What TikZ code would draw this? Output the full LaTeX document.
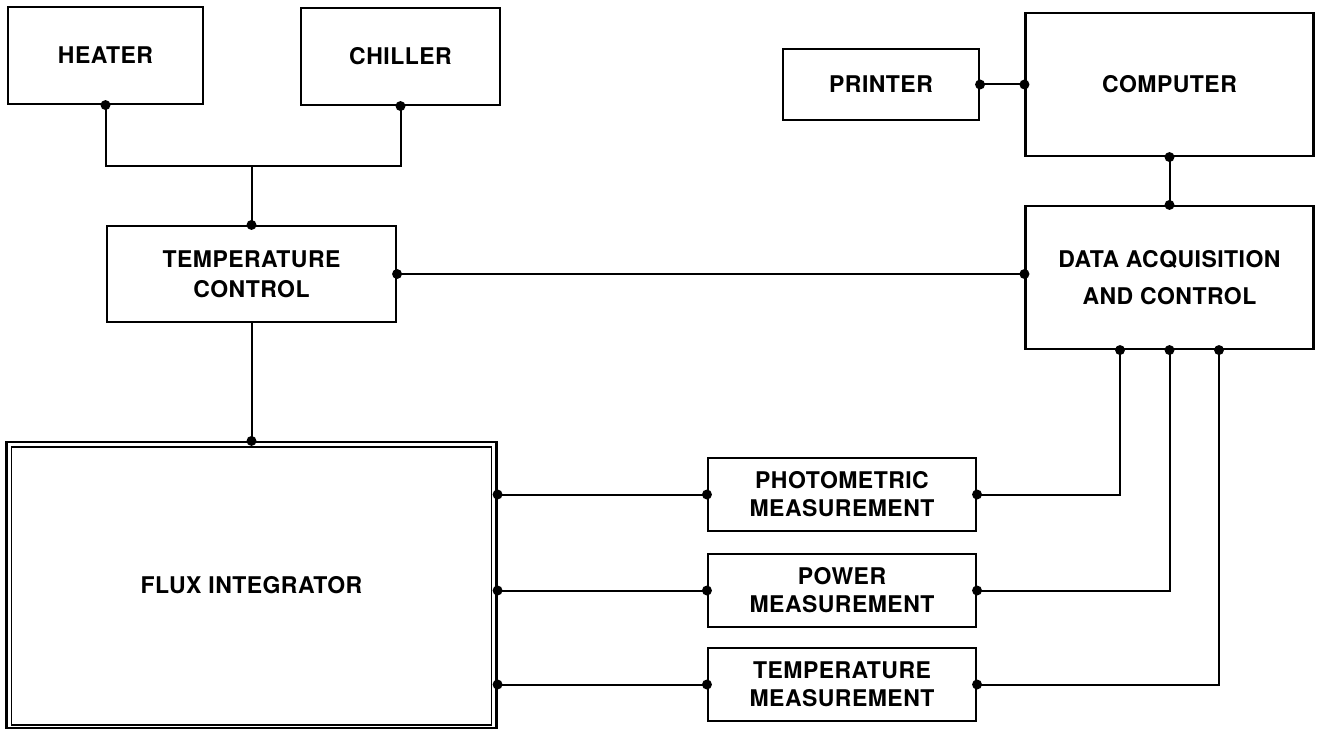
\documentclass[tikz,border=0pt]{standalone}
\usepackage{fontspec}
\setmainfont{TeX Gyre Heros}[LetterSpace=2]
\usetikzlibrary{calc}
\begin{document}
\begin{tikzpicture}[x=1pt,y=-1pt,
  box/.style={draw,line width=2.1pt,inner sep=0pt,align=center,font=\bfseries\fontsize{23}{30}\selectfont},
  measbox/.style={box,minimum width=268,minimum height=73,font=\bfseries\fontsize{23}{28}\selectfont},
  wire/.style={line width=2pt},
  jdot/.style={fill=black}]
\useasboundingbox (0,0) rectangle (1318,730);

% boxes
\node[box,minimum width=195,minimum height=97] (heater) at (105.5,55.5) {HEATER};
\node[box,minimum width=199,minimum height=97] (chiller) at (400.5,56.5) {CHILLER};
\node[box,minimum width=289,minimum height=96] (tc) at (251.5,274) {TEMPERATURE\\CONTROL};
\node[box,minimum width=490,minimum height=286] (flux) at (251.5,585) {FLUX INTEGRATOR};
\draw[line width=1.4pt] ($(flux.north west)+(6,6)$) rectangle ($(flux.south east)+(-6,-4)$);
\node[box,minimum width=196,minimum height=71] (printer) at (881,84.5) {PRINTER};
\node[box,minimum width=288,minimum height=143] (computer) at (1169.5,84.5) {COMPUTER};
\node[box,minimum width=288,minimum height=143,font=\bfseries\fontsize{23}{37}\selectfont] (daq) at (1169.5,277.5) {DATA ACQUISITION\\AND CONTROL};
\node[measbox] (photo) at (842,494.5) {PHOTOMETRIC\\MEASUREMENT};
\node[measbox] (power) at (842,590.5) {POWER\\MEASUREMENT};
\node[measbox] (tmeas) at (842,684.5) {TEMPERATURE\\MEASUREMENT};

% helper coordinates
\coordinate (jn) at (tc.north |- 0,166);
\coordinate (tcd) at (tc.east -| daq.west);
\coordinate (cpl) at (printer.east -| computer.west);
\coordinate (d1) at ($(daq.south)+(-49.5,0)$);
\coordinate (d2) at (daq.south);
\coordinate (d3) at ($(daq.south)+(49.5,0)$);
\coordinate (f1) at (photo.west -| flux.east);
\coordinate (f2) at (power.west -| flux.east);
\coordinate (f3) at (tmeas.west -| flux.east);

% connectors
\draw[wire] (heater.south) |- (jn) -| (chiller.south);
\draw[wire] (jn) -- (tc.north);
\draw[wire] (tc.south) -- (flux.north);
\draw[wire] (tc.east) -- (tcd);
\draw[wire] (printer.east) -- (cpl);
\draw[wire] (computer.south) -- (daq.north);
\draw[wire] (d1) |- (photo.east);
\draw[wire] (d2) |- (power.east);
\draw[wire] (d3) |- (tmeas.east);
\draw[wire] (f1) -- (photo.west);
\draw[wire] (f2) -- (power.west);
\draw[wire] (f3) -- (tmeas.west);

% dots
\foreach \p in {heater.south,chiller.south,tc.north,tc.east,tcd,flux.north,
  printer.east,cpl,computer.south,daq.north,d1,d2,d3,f1,f2,f3,
  photo.west,photo.east,power.west,power.east,tmeas.west,tmeas.east}
  \fill[jdot] (\p) circle (5);
\end{tikzpicture}
\end{document}
